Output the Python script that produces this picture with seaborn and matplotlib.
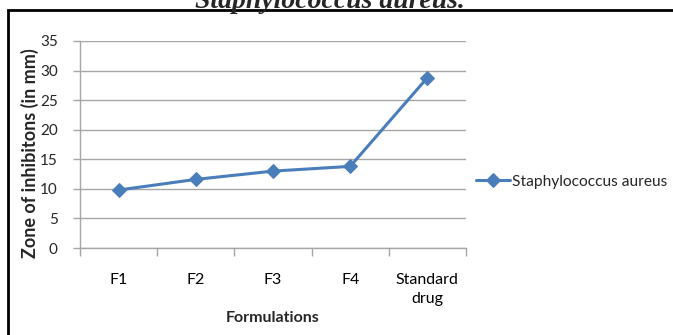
import pandas as pd
import seaborn as sns
import matplotlib.pyplot as plt
from matplotlib.patches import Rectangle

# chart values
formulations = ["F1", "F2", "F3", "F4", "Standard\ndrug"]
zone_mm = [9.8, 11.6, 13.0, 13.8, 28.8]
series_name = "Staphylococcus aureus"
y_ticks = [0, 5, 10, 15, 20, 25, 30, 35]

df = pd.DataFrame({"Formulations": formulations, "zone": zone_mm})

sns.set_style("white")
plt.rcParams["font.family"] = ["Lato", "DejaVu Sans"]

fig = plt.figure(figsize=(6.73, 3.35), dpi=100)
ax = fig.add_axes([80 / 673, 1 - 248 / 335, 386 / 673, 207 / 335])

blue = "#4A7EBB"
sns.lineplot(data=df, x="Formulations", y="zone", ax=ax, color=blue,
             marker="D", markersize=7, markeredgecolor=blue,
             linewidth=2.2, label=series_name, sort=False)

ax.set_xlim(-0.5, 4.5)
ax.set_ylim(0, 35)
ax.set_yticks(y_ticks)
ax.grid(axis="y", color="#A6A6A6", linewidth=1)
ax.set_axisbelow(True)

# category ticks sit on the boundaries, labels in between
ax.set_xticks(range(len(formulations)))
ax.set_xticklabels(formulations, linespacing=1.5)
ax.set_xticks([i - 0.5 for i in range(len(formulations) + 1)], minor=True)
ax.tick_params(axis="x", which="major", length=0, pad=18, labelsize=11.5, colors="#000000")
ax.tick_params(axis="x", which="minor", length=6, width=1, color="#A6A6A6", direction="out")
ax.tick_params(axis="y", length=5, width=1, color="#A6A6A6", labelsize=11, pad=11, direction="out")
ax.tick_params(bottom=True, left=True, which="both")

for s in ["top", "right"]:
    ax.spines[s].set_visible(False)
for s in ["left", "bottom"]:
    ax.spines[s].set_color("#A6A6A6")
    ax.spines[s].set_linewidth(1)

ax.set_xlabel("Formulations", fontsize=11.5, fontweight="bold", labelpad=3)
ax.set_ylabel("Zone of inhibitons (in mm)", fontsize=13, fontweight="bold", labelpad=1)
ax.yaxis.label.set_y(0.46)

ax.legend(loc="center left", bbox_to_anchor=(1.01, 0.32), frameon=False,
          fontsize=11.2, handlelength=2.2, handletextpad=0.1, borderaxespad=0)

# cropped title and border from the source document
fig.text(0.49, 1.0 + 11 / 335, "Staphylococcus aureus.", ha="center", va="top",
         fontsize=20, fontweight="bold", fontstyle="italic", family="Liberation Serif")
fig.add_artist(Rectangle((8 / 673, -0.2), 1.2, 1.2 - 10 / 335, transform=fig.transFigure,
                         fill=False, edgecolor="black", linewidth=2, clip_on=False))

fig.savefig("out.png", dpi=100)
